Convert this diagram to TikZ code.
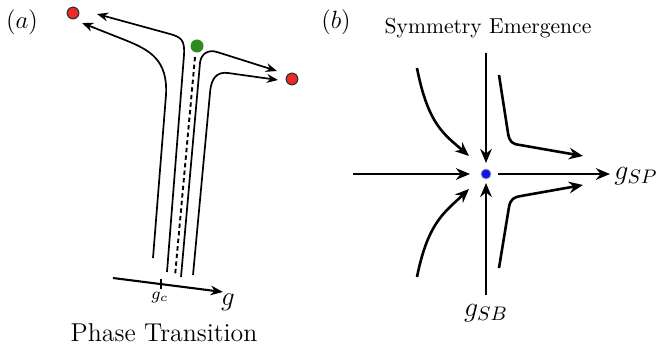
\documentclass[tikz,border=0pt]{standalone}
\usepackage{fix-cm}
\usepackage{fontspec}
\usetikzlibrary{arrows.meta}
\definecolor{dotred}{HTML}{F02828}
\definecolor{dotgreen}{HTML}{2E8B1E}
\definecolor{dotblue}{HTML}{0A14F5}
\begin{document}
\begin{tikzpicture}[x=0.5pt,y=-0.5pt,
  flow/.style={line width=0.85pt,-{Stealth[length=5.6pt,width=4.4pt]}},
  axisarrow/.style={line width=1.05pt,-{Stealth[length=6.2pt,width=4.8pt]}},
  rg/.style={line width=1.3pt,-{Stealth[length=7pt,width=5.8pt]}},
  reddot/.style={circle,fill=dotred,draw=black!80,line width=0.6pt,inner sep=0pt,minimum size=5.8pt},
  greendot/.style={circle,fill=dotgreen,inner sep=0pt,minimum size=6.5pt},
  bluedot/.style={circle,fill=dotblue,draw=black!35,line width=0.4pt,inner sep=0pt,minimum size=5pt},
  lab/.style={inner sep=0pt}
]
\useasboundingbox (0,0) rectangle (659,352);
% ---------- panel (a)
\node[lab,font=\fontsize{12.5}{14}\selectfont] (la) at (22,22) {$(a)$};
\node[reddot] (r1) at (73,13) {};
\node[reddot] (r2) at (292,79) {};
\node[greendot] (gr) at (197,46) {};
\coordinate (d1) at (195,57);
\coordinate (d2) at (175,276);
\draw[line width=0.95pt,dash pattern=on 2.2pt off 1.6pt] (d1) -- (d2);
\draw[flow] (153,258) -- (166,95) .. controls (168,60) and (150,50) .. (125,40) -- (82,23);
\draw[flow] (167,272) -- (184,55) .. controls (185,40) and (181,37) .. (170,34) -- (97,14);
\draw[flow] (181,277) -- (200,63) .. controls (201,53) and (209,49.5) .. (217,52) -- (277,71);
\draw[flow] (193,275) -- (210,93) .. controls (211,78) and (217,71.5) .. (228,73) -- (278,80);
\coordinate (ax0) at (113,278);
\coordinate (ax1) at (223,292);
\draw[axisarrow] (ax0) -- (ax1);
\coordinate (gc) at (161,284.2);
\draw[line width=0.6pt] ([yshift=2.5pt]gc) -- ([yshift=-2.5pt]gc);
\node[lab,font=\fontsize{8.5}{10}\selectfont] (lgc) at (160,297) {$g_c$};
\node[lab,font=\fontsize{13.5}{15}\selectfont] (lg) at (228,302) {$g$};
\node[lab,font=\fontsize{12.9}{15}\selectfont] (lpt) at (164,333) {Phase Transition};
% ---------- panel (b)
\node[lab,font=\fontsize{12.5}{14}\selectfont] (lb) at (336,22) {$(b)$};
\node[lab,font=\fontsize{10.8}{12}\selectfont] (lse) at (488,28) {Symmetry Emergence};
\node[bluedot] (c) at (486,174) {};
\coordinate (w) at (353,174);
\coordinate (e) at (610,174);
\coordinate (n) at (486,53);
\coordinate (s) at (486,295);
\draw[rg] (w) -- ([xshift=-8pt]c.center);
\draw[rg] ([xshift=6pt]c.center) -- (e);
\draw[rg] (n) -- ([yshift=5.5pt]c.center);
\draw[rg] (s) -- ([yshift=-4.5pt]c.center);
\draw[rg] (417,68) .. controls (428,125) and (445,135) .. (469,156);
\draw[rg] (417,277) .. controls (428,222) and (445,212) .. (469,189);
\draw[rg] (499,75) -- (508,133) .. controls (509.5,142) and (512,144) .. (520,145) -- (583,156);
\draw[rg] (499,268) -- (509,207) .. controls (510.5,199) and (514,197) .. (521,196) -- (583,185);
\node[lab,font=\fontsize{14}{16}\selectfont,anchor=west] (lsp) at (614,176) {$g_{SP}$};
\node[lab,font=\fontsize{14}{16}\selectfont] (lsb) at (486,313) {$g_{SB}$};
\end{tikzpicture}
\end{document}
